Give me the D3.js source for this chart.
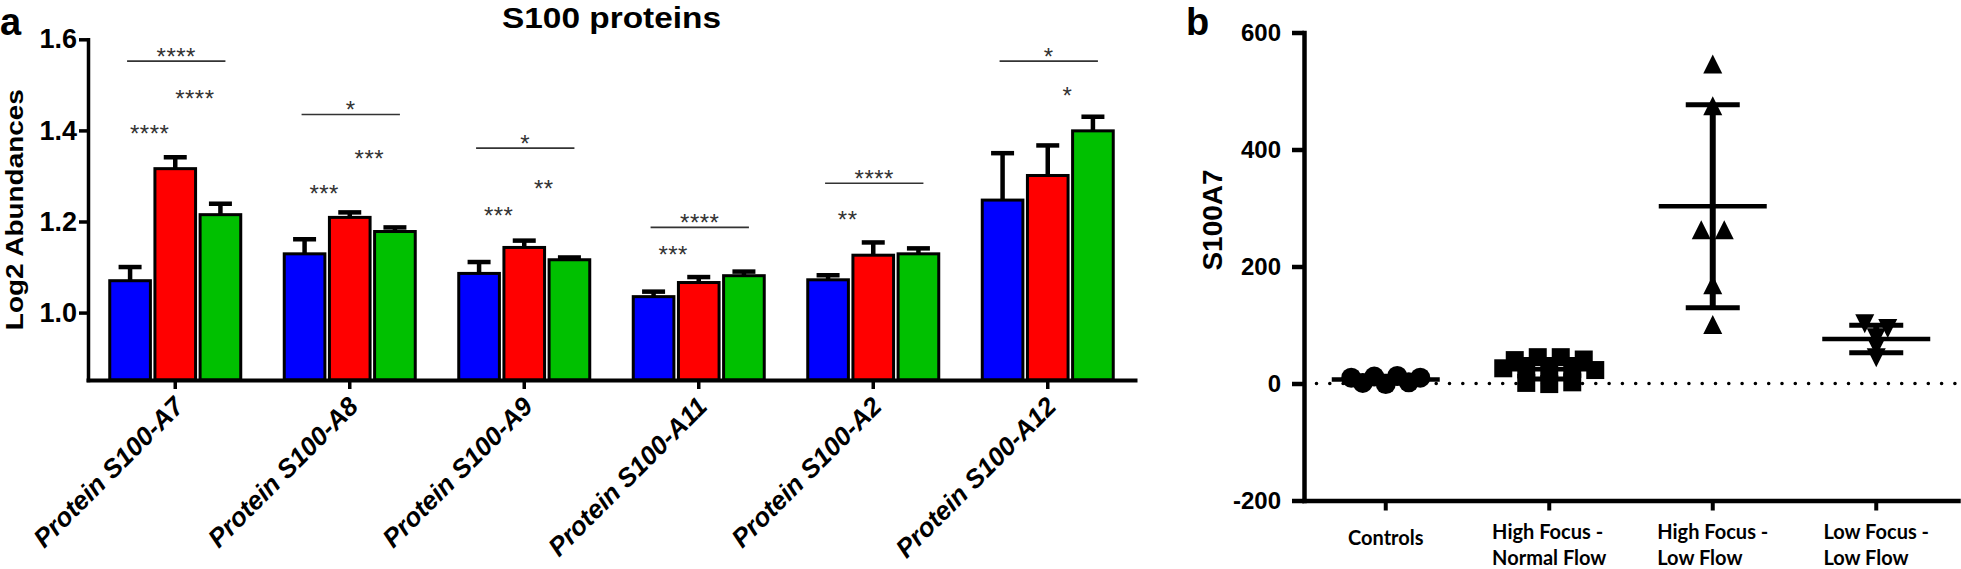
<!DOCTYPE html>
<html><head><meta charset="utf-8">
<script src="https://cdn.jsdelivr.net/npm/d3@7/dist/d3.min.js"></script>
<style>
body{margin:0;background:#fff}
svg{display:block}
</style>
</head><body>
<svg id="chart" width="1961" height="569"></svg>
<script>
// ================= Panel a data =================
const proteins = ["Protein S100-A7","Protein S100-A8","Protein S100-A9","Protein S100-A11","Protein S100-A2","Protein S100-A12"];
const seriesKeys = ["blue","red","green"];
const blueMeans  = [1.070,1.129,1.086,1.035,1.072,1.247];
const blueSEM    = [0.030,0.032,0.025,0.011,0.010,0.103];
const redMeans   = [1.316,1.209,1.143,1.066,1.126,1.301];
const redSEM     = [0.025,0.011,0.015,0.012,0.028,0.066];
const greenMeans = [1.215,1.178,1.116,1.081,1.129,1.399];
const greenSEM   = [0.024,0.009,0.005,0.009,0.012,0.031];
const yTicksA = [1.0,1.2,1.4,1.6];
const yDomainA = [0.852,1.6];

// significance annotations: protein index, series from, series to, label, level (value)
const sigProtein = [0,0,0, 1,1,1, 2,2,2, 3,3, 4,4, 5,5];
const sigFrom    = [0,0,1, 0,0,1, 0,0,1, 0,0, 0,0, 0,1];
const sigTo      = [2,1,2, 2,1,2, 2,1,2, 2,1, 2,1, 2,2];
const sigLabel   = ["****","****","****", "*","***","***", "*","***","**", "****","***", "****","**", "*","*"];
const sigLevel   = [1.552,1.405,1.483, 1.435,1.274,1.351, 1.361,1.225,1.284, 1.187,1.139, 1.284,1.216, 1.552,1.489];

// ================= Panel b data =================
const groupsB = ["Controls","High Focus - Normal Flow","High Focus - Low Flow","Low Focus - Low Flow"];
const groupLabelLines = [["Controls"],["High Focus -","Normal Flow"],["High Focus -","Low Flow"],["Low Focus -","Low Flow"]];
const controlsVals = [10,12,13,10,1,-1,2];
const hfnfVals     = [40,45,45,41,26,24,22,25,23,1,-1,2];
const hflfVals     = [546,475,263,263,169,101];
const lflfVals     = [102,94,78,63,44];
const yTicksB = [-200,0,200,400,600];
const yDomainB = [-200,600];

// ================= drawing =================
const svg = d3.select("#chart");
const ARIAL = "'Liberation Sans', Arial, Helvetica, sans-serif";
const colors = {blue:"#0000FF", red:"#FF0000", green:"#00C000"};

// ---------- Panel a ----------
const A = {left:88, right:1135, top:39.3, bottom:380};
const xA = d3.scaleBand().domain(proteins).range([A.left, A.right]).padding(0);
const xInner = d3.scaleBand().domain(seriesKeys).range([-65.5, 65.5]).paddingInner(0.1);
const yA = d3.scaleLinear().domain(yDomainA).range([A.bottom, A.top]);

const means = {blue:blueMeans, red:redMeans, green:greenMeans};
const sems  = {blue:blueSEM, red:redSEM, green:greenSEM};
const barData = [];
proteins.forEach((p,i)=>seriesKeys.forEach(k=>barData.push({p, k, v:means[k][i], e:sems[k][i]})));

const gA = svg.append("g");
const bw = xInner.bandwidth();
const cx = d => xA(d.p) + xA.bandwidth()/2 + xInner(d.k) + bw/2;

// error bars (upper only)
gA.selectAll(".stem").data(barData).join("line")
  .attr("x1",cx).attr("x2",cx)
  .attr("y1",d=>yA(d.v)).attr("y2",d=>yA(d.v+d.e))
  .attr("stroke","#000").attr("stroke-width",4.5);
gA.selectAll(".cap").data(barData).join("line")
  .attr("x1",d=>cx(d)-11.5).attr("x2",d=>cx(d)+11.5)
  .attr("y1",d=>yA(d.v+d.e)).attr("y2",d=>yA(d.v+d.e))
  .attr("stroke","#000").attr("stroke-width",4.5);
// bars
gA.selectAll(".bar").data(barData).join("rect")
  .attr("x",d=>cx(d)-bw/2).attr("width",bw)
  .attr("y",d=>yA(d.v)).attr("height",d=>A.bottom-yA(d.v))
  .attr("fill",d=>colors[d.k]).attr("stroke","#000").attr("stroke-width",3);

// axes a
const yAxisA = d3.axisLeft(yA).tickValues(yTicksA).tickSize(9).tickPadding(2).tickSizeOuter(0).tickFormat(d3.format(".1f"));
const gyA = gA.append("g").attr("transform",`translate(${A.left},0)`).call(yAxisA);
gyA.select(".domain").attr("stroke-width",3.5).attr("stroke-linecap","square");
gyA.selectAll(".tick line").attr("stroke-width",3.5);
gyA.selectAll(".tick text").attr("font-family",ARIAL).attr("font-weight","bold").attr("font-size",27).attr("fill","#000");

const xAxisA = d3.axisBottom(xA).tickSize(9).tickSizeOuter(0).tickFormat("");
const gxA = gA.append("g").attr("transform",`translate(0,${A.bottom})`).call(xAxisA);
gxA.select(".domain").attr("stroke-width",4).attr("stroke-linecap","square");
gxA.selectAll(".tick line").attr("stroke-width",3.5);

// rotated category labels
gA.selectAll(".xlab").data(proteins).join("text")
  .attr("transform",d=>`translate(${xA(d)+xA.bandwidth()/2+10},${A.bottom+28}) rotate(-45)`)
  .attr("text-anchor","end")
  .attr("font-family",ARIAL).attr("font-weight","bold").attr("font-style","italic").attr("font-size",26)
  .text(d=>d);

// significance
const sig = sigLabel.map((l,i)=>({p:proteins[sigProtein[i]], a:seriesKeys[sigFrom[i]], b:seriesKeys[sigTo[i]], l, v:sigLevel[i]}));
const sx = (p,k)=> xA(p)+xA.bandwidth()/2 + xInner(k) + bw/2;
const ASTER = 24;
sig.forEach(s=>{
  const x1 = sx(s.p,s.a), x2 = sx(s.p,s.b);
  const bracket = (s.a==="blue" && s.b==="green");
  let yc, xt;
  if (bracket){
    const yl = yA(s.v);
    gA.append("line").attr("x1",x1-3).attr("x2",x2+5).attr("y1",yl).attr("y2",yl)
      .attr("stroke","#333").attr("stroke-width",1.6);
    yc = yl - 10.5; xt = (x1+x2)/2+1;
  } else {
    yc = yA(s.v); xt = (x1+x2)/2-3;
  }
  gA.append("text").attr("x",xt).attr("y",yc+ASTER*0.58)
    .attr("text-anchor","middle").attr("font-family",ARIAL).attr("font-size",ASTER)
    .attr("letter-spacing",0.5).attr("fill","#333").text(s.l);
});

// titles a
gA.append("text").attr("x",0).attr("y",34.5).attr("font-family",ARIAL).attr("font-weight","bold").attr("font-size",38).text("a");
gA.append("text").attr("x",(A.left+A.right)/2).attr("y",28).attr("text-anchor","middle")
  .attr("font-family",ARIAL).attr("font-weight","bold").attr("font-size",30)
  .attr("textLength",219).attr("lengthAdjust","spacingAndGlyphs").text("S100 proteins");
gA.append("text").attr("transform",`translate(23,${(A.top+A.bottom)/2}) rotate(-90)`).attr("text-anchor","middle")
  .attr("font-family",ARIAL).attr("font-weight","bold").attr("font-size",24)
  .attr("textLength",241).attr("lengthAdjust","spacingAndGlyphs").text("Log2 Abundances");

// ---------- Panel b ----------
const B = {left:1304, right:1958, top:32.5, bottom:500.5};
const xB = d3.scaleBand().domain(groupsB).range([B.left, B.right]).padding(0);
const yB = d3.scaleLinear().domain(yDomainB).range([B.bottom, B.top]);
const gB = svg.append("g");

// zero dotted line
gB.append("line").attr("x1",B.left+12.5).attr("x2",B.right).attr("y1",yB(0)).attr("y2",yB(0))
  .attr("stroke","#000").attr("stroke-width",3.6).attr("stroke-linecap","round").attr("stroke-dasharray","0 13.3");

// row-based scatter layout (GraphPad-like): points with near-equal values share a row
function rowLayout(vals, bin, spacing){
  const idx = d3.range(vals.length).sort((a,b)=>vals[b]-vals[a]);
  const rows=[]; let cur=null;
  idx.forEach(i=>{
    if (cur && cur.start - vals[i] <= bin) cur.items.push(i);
    else { cur={start:vals[i], items:[i]}; rows.push(cur); }
  });
  const dx = new Array(vals.length);
  rows.forEach(r=>{ r.items.sort((a,b)=>a-b); const k=r.items.length; r.items.forEach((i,j)=>dx[i]=(j-(k-1)/2)*spacing); });
  return dx;
}
const seriesB = [controlsVals, hfnfVals, hflfVals, lflfVals];
const shapes = ["circle","square","tri-up","tri-down"];
const shapePath = {
  "square":"M-9,-9H9V9H-9Z",
  "tri-up":"M0,-9.5L9.5,9.5L-9.5,9.5Z",
  "tri-down":"M-9.5,-9.5L9.5,-9.5L0,9.5Z"
};
seriesB.forEach((vals,gi)=>{
  const g = groupsB[gi];
  const c = xB(g)+xB.bandwidth()/2;
  const dx = rowLayout(vals, 8, 23);
  const pts = vals.map((v,i)=>({v, x:c+dx[i]}));
  if (shapes[gi]==="circle"){
    gB.selectAll(null).data(pts).join("circle").attr("cx",d=>d.x).attr("cy",d=>yB(d.v)).attr("r",10).attr("fill","#000");
  } else {
    gB.selectAll(null).data(pts).join("path").attr("d",shapePath[shapes[gi]])
      .attr("transform",d=>`translate(${d.x},${yB(d.v)})`).attr("fill","#000");
  }
  const m = d3.mean(vals), sd = d3.deviation(vals);
  gB.append("line").attr("x1",c).attr("x2",c).attr("y1",yB(m-sd)).attr("y2",yB(m+sd)).attr("stroke","#000").attr("stroke-width",6);
  [m-sd, m+sd].forEach(v=>gB.append("line").attr("x1",c-27).attr("x2",c+27).attr("y1",yB(v)).attr("y2",yB(v)).attr("stroke","#000").attr("stroke-width",5));
  gB.append("line").attr("x1",c-54).attr("x2",c+54).attr("y1",yB(m)).attr("y2",yB(m)).attr("stroke","#000").attr("stroke-width",4.5);
});

// axes b
const yAxisB = d3.axisLeft(yB).tickValues(yTicksB).tickSize(12).tickPadding(11).tickSizeOuter(0).tickFormat(d=>String(d));
const gyB = gB.append("g").attr("transform",`translate(${B.left},0)`).call(yAxisB);
gyB.select(".domain").attr("stroke-width",4.5).attr("stroke-linecap","square");
gyB.selectAll(".tick line").attr("stroke-width",4.5);
gyB.selectAll(".tick text").attr("font-family",ARIAL).attr("font-weight","bold").attr("font-size",24).attr("fill","#000");

const xAxisB = d3.axisBottom(xB).tickSize(10).tickSizeOuter(0).tickFormat("");
const gxB = gB.append("g").attr("transform",`translate(0,${B.bottom})`).call(xAxisB);
gxB.select(".domain").attr("stroke-width",4.5).attr("stroke-linecap","square");
gxB.selectAll(".tick line").attr("stroke-width",4);

// group labels: left-aligned lines, block centred on tick
const LATO = "Lato, 'Open Sans', sans-serif";
groupsB.forEach((g,gi)=>{
  const c = xB(g)+xB.bandwidth()/2;
  const lines = groupLabelLines[gi];
  const t = gB.append("g");
  const texts = lines.map((ln,li)=>t.append("text")
      .attr("y", lines.length===1 ? 545 : 539 + li*26)
      .attr("font-family",LATO).attr("font-weight","bold").attr("font-size",20).attr("fill","#000").text(ln));
  const w = d3.max(texts, s=>s.node().getComputedTextLength());
  texts.forEach(s=>s.attr("x", c - w/2));
});

gB.append("text").attr("x",1186).attr("y",35).attr("font-family",ARIAL).attr("font-weight","bold").attr("font-size",38).text("b");
gB.append("text").attr("transform","translate(1222,220) rotate(-90)").attr("text-anchor","middle")
  .attr("font-family",ARIAL).attr("font-weight","bold").attr("font-size",28).text("S100A7");
</script>
</body></html>
